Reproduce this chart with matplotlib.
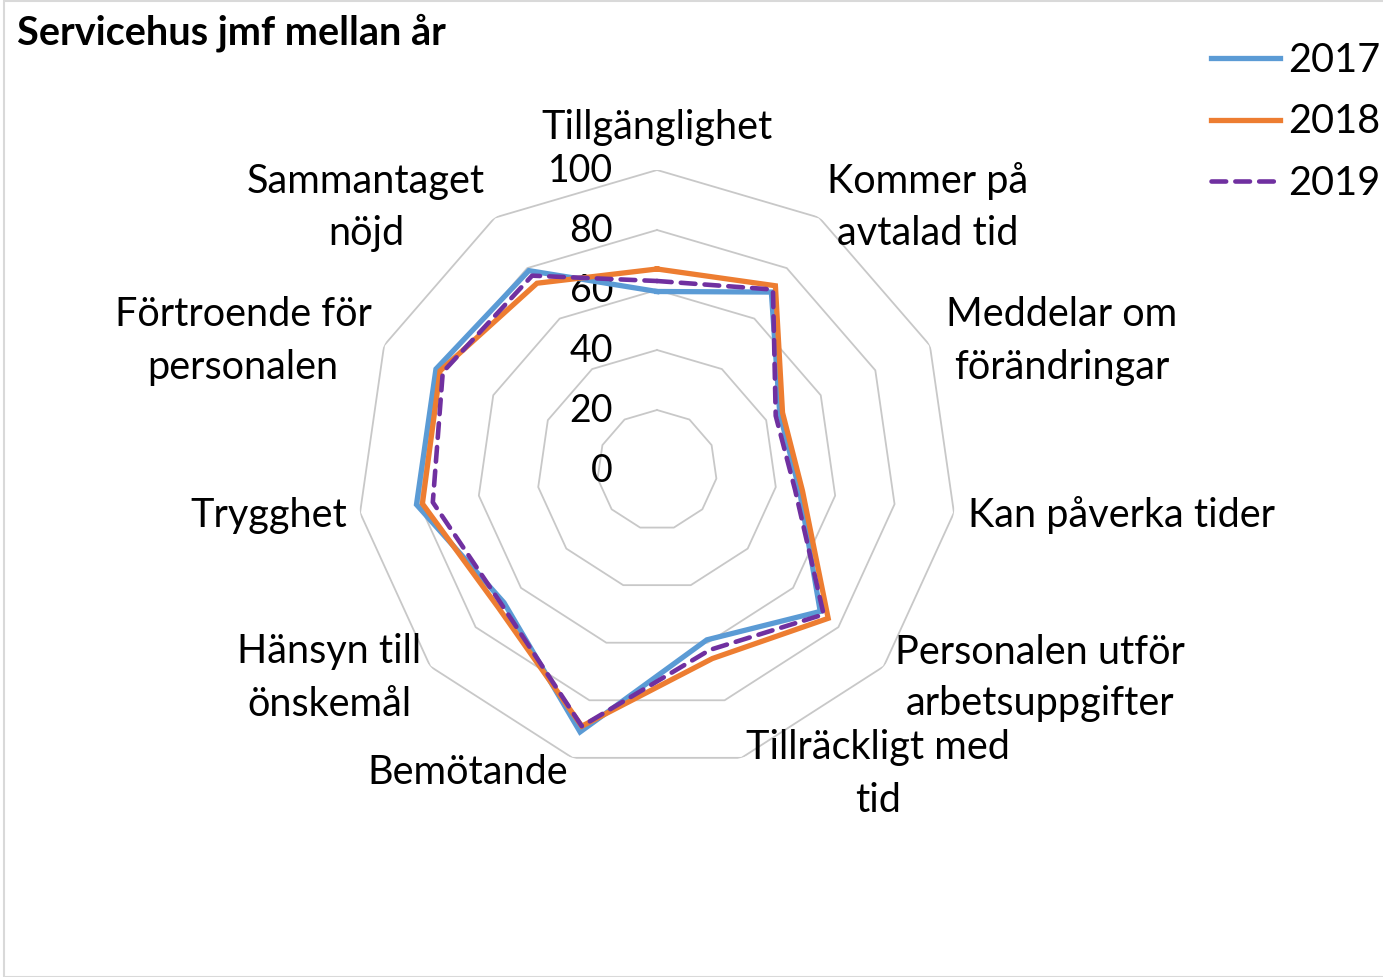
import numpy as np
import matplotlib
matplotlib.use('Agg')
import matplotlib.pyplot as plt
from matplotlib.patches import Rectangle

plt.rcParams['font.family'] = ['Lato', 'DejaVu Sans']

categories = ['Tillgänglighet', 'Kommer på\navtalad tid', 'Meddelar om\nförändringar',
              'Kan påverka tider', 'Personalen utför\narbetsuppgifter', 'Tillräckligt med\ntid',
              'Bemötande', 'Hänsyn till\nönskemål', 'Trygghet', 'Förtroende för\npersonalen',
              'Sammantaget\nnöjd']
v2017 = [59.5, 70.5, 45, 48, 72, 59, 91, 67.5, 81, 81, 79]
v2018 = [67, 73, 46, 49, 75.5, 65.5, 89, 70, 79, 79.5, 74]
v2019 = [63, 71.5, 43.5, 46.5, 73.5, 62.5, 89, 68.5, 75.5, 78.5, 77]
ticks = [0, 20, 40, 60, 80, 100]

# label centres in pixels (x, y from top)
label_pos = [(657, 127), (928, 207), (1062, 341), (1122, 515), (1040, 678),
             (878, 774), (468, 773), (329, 678), (269, 515), (243, 341), (366, 207)]

W, H = 1383, 977
fig = plt.figure(figsize=(W / 100, H / 100), dpi=100)
fig.patches.append(Rectangle((4 / W, 0), 1.2, 1 - 1 / H, transform=fig.transFigure,
                             fill=False, edgecolor='#d9d9d9', lw=1.5))

cx, cy, R = 657, 470, 300
ax = fig.add_axes([(cx - R) / W, 1 - (cy + R) / H, 2 * R / W, 2 * R / H], projection='polar')
ax.set_theta_zero_location('N')
ax.set_theta_direction(-1)
ax.set_ylim(0, 100)
ax.grid(False)
ax.spines['polar'].set_visible(False)
ax.set_xticks([])
ax.set_yticks([])
ax.patch.set_alpha(0)

n = len(categories)
ang = np.linspace(0, 2 * np.pi, n, endpoint=False)
angc = np.append(ang, ang[0])

for t in ticks[1:]:
    ax.plot(angc, [t] * (n + 1), color='#c8c8c8', lw=1.3, zorder=1)
for t in ticks:
    ax.annotate(str(t), xy=(0, t), xytext=(-44, -1), textcoords='offset pixels',
                ha='right', va='center', fontsize=27)

def close(v):
    return list(v) + [v[0]]

ax.plot(angc, close(v2017), color='#5b9bd5', lw=3.8, label='2017', zorder=3,
        solid_joinstyle='miter')
ax.plot(angc, close(v2018), color='#ed7d31', lw=3.8, label='2018', zorder=4,
        solid_joinstyle='miter')
ax.plot(angc, close(v2019), color='#7030a0', lw=3.3, label='2019', zorder=5,
        dashes=(3.2, 2.0), dash_capstyle='round')

for lab, (x, y) in zip(categories, label_pos):
    fig.text(x / W, 1 - y / H, lab, ha='center', va='center', fontsize=28.5,
             linespacing=1.5)

fig.text(17 / W, 1 - 33 / H, 'Servicehus jmf mellan år', ha='left', va='center',
         fontsize=28.5, fontweight='bold')

leg = fig.legend(loc='upper right', bbox_to_anchor=(1396 / W, 1 - 26 / H), frameon=False,
                 fontsize=28.5, handlelength=1.75, handletextpad=0.2, labelspacing=0.62,
                 borderaxespad=0)

fig.savefig('out.png', dpi=100)
